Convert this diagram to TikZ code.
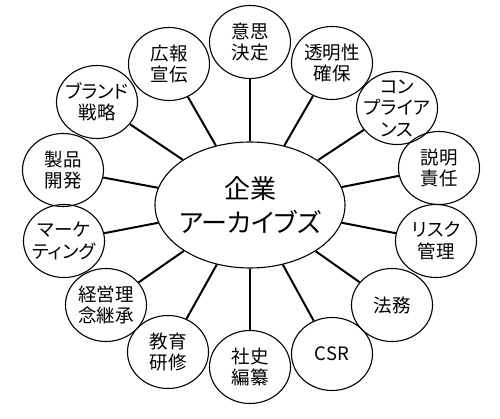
\documentclass[tikz,border=0pt]{standalone}
\usepackage{fontspec}
\newfontfamily\jpfont[RawFeature=+palt]{Noto Sans CJK JP}
\usepackage{tikz}
\usetikzlibrary{shapes.geometric}

\begin{document}
\begin{tikzpicture}[
    x=1pt, y=-1pt,
    hub/.style={draw, ellipse, line width=1.1pt, minimum width=190pt, minimum height=126pt, inner xsep=-20pt, inner ysep=0pt, align=center, font=\jpfont\fontsize{26}{34}\selectfont},
    topic/.style={draw, ellipse, line width=1.1pt, minimum width=81pt, minimum height=73pt, inner xsep=-16pt, inner ysep=-12pt, align=center, font=\jpfont\fontsize{18.5}{21.5}\selectfont},
    spoke/.style={line width=2pt}
]
    \useasboundingbox (0,0) rectangle (500,419);

    \node[hub] (archive) at (250,205) {企業\\アーカイブズ};

    \node[topic] (t1) at (250,42) {意思\\決定};
    \node[topic] (t2) at (332,63) {透明性\\確保};
    \node[topic] (t3) at (397,108) {コン\\プライア\\ンス};
    \node[topic] (t4) at (439,168) {説明\\責任};
    \node[topic] (t5) at (436,241) {リスク\\管理};
    \node[topic] (t6) at (392,305) {法務};
    \node[topic] (t7) at (332,354) {CSR};
    \node[topic] (t8) at (250,367) {社史\\編纂};
    \node[topic] (t9) at (168,352) {教育\\研修};
    \node[topic] (t10) at (106,305) {経営理\\念継承};
    \node[topic] (t11) at (64,241) {マーケ\\ティング};
    \node[topic] (t12) at (63,170) {製品\\開発};
    \node[topic] (t13) at (97,102) {ブランド\\戦略};
    \node[topic] (t14) at (169,64) {広報\\宣伝};

    \draw[spoke] (archive) -- (t1);
    \draw[spoke] (archive) -- (t2);
    \draw[spoke] (archive) -- (t3);
    \draw[spoke] (archive) -- (t4);
    \draw[spoke] (archive) -- (t5);
    \draw[spoke] (archive) -- (t6);
    \draw[spoke] (archive) -- (t7);
    \draw[spoke] (archive) -- (t8);
    \draw[spoke] (archive) -- (t9);
    \draw[spoke] (archive) -- (t10);
    \draw[spoke] (archive) -- (t11);
    \draw[spoke] (archive) -- (t12);
    \draw[spoke] (archive) -- (t13);
    \draw[spoke] (archive) -- (t14);

\end{tikzpicture}
\end{document}
